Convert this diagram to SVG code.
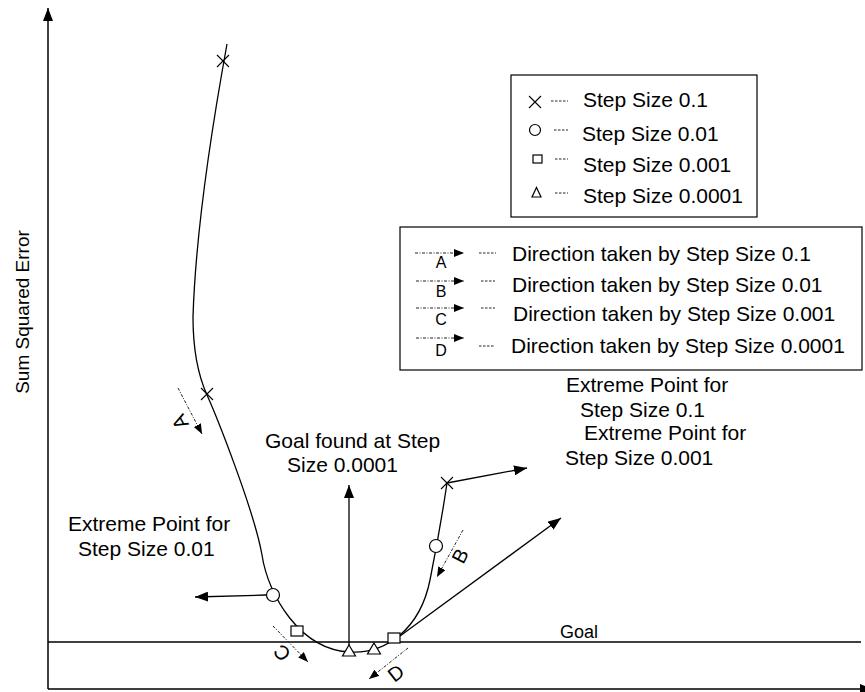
<svg xmlns="http://www.w3.org/2000/svg" width="865" height="692" viewBox="0 0 865 692">
<defs>
<marker id="ah" markerUnits="userSpaceOnUse" markerWidth="14" markerHeight="10" refX="13" refY="5" orient="auto"><path d="M0,0 L13,5 L0,10 z" fill="#000"/></marker>
<marker id="ahs" markerUnits="userSpaceOnUse" markerWidth="11" markerHeight="9" refX="10" refY="4" orient="auto"><path d="M0,0 L10,4 L0,8 z" fill="#000"/></marker>
<path id="x" d="M-6,-6 L6,6 M-6,6 L6,-6" fill="none" stroke="#000" stroke-width="1.1"/>
</defs>
<style>
.ln{fill:none;stroke:#000;stroke-width:1.3}
.ax{fill:none;stroke:#000;stroke-width:1.5}
.dd{fill:none;stroke:#222;stroke-width:1;stroke-dasharray:3 1.5 1 1.5}
.sd{fill:none;stroke:#222;stroke-width:1;stroke-dasharray:2.5 1.5}
.mk{fill:#fff;stroke:#000;stroke-width:1.2}
.box{fill:#fff;stroke:#000;stroke-width:1.2}
text{font-family:"Liberation Sans",Arial,sans-serif;fill:#000}
.t21{font-size:21px}
.t18{font-size:18px}
.t16{font-size:16px}
.lt{font-size:20px;text-anchor:middle;dominant-baseline:central}
</style>
<rect width="865" height="692" fill="#fff"/>

<g id="axes">
<line class="ax" x1="48" y1="689" x2="48" y2="8" marker-end="url(#ah)"/>
<line class="ax" x1="48" y1="689" x2="873" y2="689" marker-end="url(#ah)"/>
<text transform="translate(29,312) rotate(-90)" text-anchor="middle" font-size="19">Sum Squared Error</text>
</g>

<g id="goal-line">
<line class="ln" x1="48" y1="642" x2="861" y2="642"/>
<text class="t18" x="560" y="638">Goal</text>
</g>

<g id="curve">
<path class="ln" d="M227,44 C215,110 196,220 193,317 C193,350 198,375 207,395 C216,415 254,510 262,555 C268,595 300,650 350,652 C385,654 420,630 430,580 C434,560 443,510 447,483"/>
</g>

<g id="connectors">
<line class="ln" x1="349" y1="645" x2="349" y2="485" marker-end="url(#ah)"/>
<line class="ln" x1="447" y1="483" x2="527" y2="468" marker-end="url(#ah)"/>
<line class="ln" x1="266" y1="595" x2="195" y2="597" marker-end="url(#ah)"/>
<line class="ln" x1="400" y1="636" x2="561" y2="518" marker-end="url(#ah)"/>
<line class="dd" x1="178" y1="388" x2="202" y2="434" marker-end="url(#ahs)"/>
<line class="dd" x1="463" y1="530" x2="437" y2="577" marker-end="url(#ahs)"/>
<line class="dd" x1="273" y1="626" x2="308" y2="662" marker-end="url(#ahs)"/>
<line class="dd" x1="408" y1="648" x2="369" y2="679" marker-end="url(#ahs)"/>
</g>

<g id="points">
<use href="#x" x="223" y="61"/>
<use href="#x" x="207" y="394"/>
<use href="#x" x="447" y="483"/>
<circle class="mk" cx="273" cy="595" r="6.5"/>
<circle class="mk" cx="436" cy="546" r="6.5"/>
<rect class="mk" x="291" y="626" width="12" height="10"/>
<rect class="mk" x="388" y="633" width="12" height="10"/>
<path class="mk" d="M349,645 L355.5,656 L342.5,656 z"/>
<path class="mk" d="M374,643 L380.5,654 L367.5,654 z"/>
</g>

<g id="direction-labels">
<text class="lt" transform="translate(180,422) rotate(-118)">A</text>
<text class="lt" transform="translate(460,556) rotate(-63)">B</text>
<text class="lt" transform="translate(282,653) rotate(-134)">C</text>
<text class="lt" transform="translate(396,673) rotate(-38)">D</text>
</g>

<g id="label-goal-found">
<text class="t21" x="265" y="448">Goal found at Step</text>
<text class="t21" x="287" y="472">Size 0.0001</text>
</g>
<g id="label-extreme-01">
<text class="t21" x="566" y="392">Extreme Point for</text>
<text class="t21" x="580" y="417">Step Size 0.1</text>
</g>
<g id="label-extreme-0001">
<text class="t21" x="584" y="440">Extreme Point for</text>
<text class="t21" x="565" y="465">Step Size 0.001</text>
</g>
<g id="label-extreme-001">
<text class="t21" x="68" y="531">Extreme Point for</text>
<text class="t21" x="78" y="556">Step Size 0.01</text>
</g>

<g id="legend-markers">
<rect class="box" x="511" y="75" width="246" height="142"/>
<use href="#x" x="535" y="102"/>
<line class="sd" x1="551" y1="101" x2="568" y2="101"/>
<text class="t21" x="583" y="107">Step Size 0.1</text>
<circle class="mk" cx="535" cy="130" r="5.5"/>
<line class="sd" x1="554" y1="130" x2="568" y2="130"/>
<text class="t21" x="582" y="141">Step Size 0.01</text>
<rect class="mk" x="533" y="155" width="9" height="8"/>
<line class="sd" x1="555" y1="159" x2="568" y2="159"/>
<text class="t21" x="583" y="172">Step Size 0.001</text>
<path class="mk" d="M536.5,187.5 L541,197 L532,197 z"/>
<line class="sd" x1="555" y1="193" x2="568" y2="193"/>
<text class="t21" x="583" y="203">Step Size 0.0001</text>
</g>

<g id="legend-directions">
<rect class="box" x="400" y="227" width="462" height="143"/>
<line class="dd" x1="415" y1="253" x2="464" y2="253" marker-end="url(#ahs)"/>
<text class="t16" x="441" y="268" text-anchor="middle">A</text>
<line class="sd" x1="479" y1="253" x2="496" y2="253"/>
<text class="t21" x="512" y="261">Direction taken by Step Size 0.1</text>
<line class="dd" x1="416" y1="281" x2="464" y2="281" marker-end="url(#ahs)"/>
<text class="t16" x="441" y="297" text-anchor="middle">B</text>
<line class="sd" x1="481" y1="281" x2="495" y2="281"/>
<text class="t21" x="512" y="292">Direction taken by Step Size 0.01</text>
<line class="dd" x1="416" y1="308" x2="464" y2="308" marker-end="url(#ahs)"/>
<text class="t16" x="441" y="325" text-anchor="middle">C</text>
<line class="sd" x1="481" y1="308" x2="495" y2="308"/>
<text class="t21" x="513" y="321">Direction taken by Step Size 0.001</text>
<line class="dd" x1="416" y1="338" x2="464" y2="338" marker-end="url(#ahs)"/>
<text class="t16" x="441" y="356" text-anchor="middle">D</text>
<line class="sd" x1="479" y1="346" x2="495" y2="346"/>
<text class="t21" x="511" y="353">Direction taken by Step Size 0.0001</text>
</g>
</svg>
